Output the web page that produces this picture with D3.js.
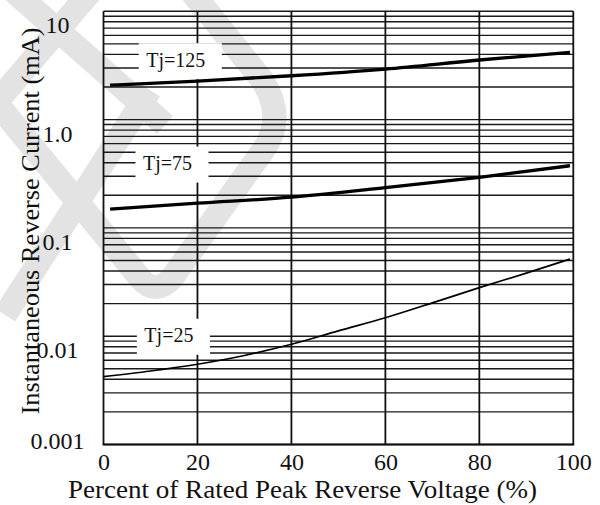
<!DOCTYPE html>
<html>
<head>
<meta charset="utf-8">
<script src="https://cdn.jsdelivr.net/npm/d3@7"></script>
<style>
  body { margin: 0; background: #fff; }
  svg { display: block; }
  text { font-family: "Liberation Serif", "Times New Roman", serif; fill: #111; }
</style>
</head>
<body>
<div id="chart"></div>
<script>
var width = 600
var height = 505
var margin = { top: 11.3, right: 26.7, bottom: 60.5, left: 103.5 }

// x ticks (percent of rated peak reverse voltage)
var xTicks = [0, 20, 40, 60, 80, 100]
// y ticks (mA) and their printed labels
var yTicks = [10, 1, 0.1, 0.01, 0.001]
var yTickLabels = ["10", "1.0", "0.1", "0.01", "0.001"]

// curves
var tj125X = [1.4, 20, 40, 60, 80, 99.3]
var tj125Y = [2.08, 2.27, 2.54, 2.93, 3.55, 4.18]
var tj75X = [1.4, 20, 40, 60, 80, 99.3]
var tj75Y = [0.149, 0.169, 0.192, 0.235, 0.293, 0.375]
var tj25X = [0, 10, 20, 30, 40, 50, 60, 70, 80, 90, 99.3]
var tj25Y = [0.00423, 0.00477, 0.00551, 0.00664, 0.00842, 0.0112, 0.0148, 0.0203, 0.0281, 0.0382, 0.0516]

// series labels: name, x (%), y (mA) of text baseline start
var labelNames = ["Tj=125", "Tj=75", "Tj=25"]
var labelX = [9.1, 8.4, 8.7]
var labelY = [3.08, 0.342, 0.00879]

var svg = d3.select("#chart")
  .append("svg")
  .attr("width", width)
  .attr("height", height)

// faint watermark in the background
var wm = svg.append("g")
  .attr("fill", "none")
  .attr("stroke", "#e3e3e3")
  .attr("stroke-width", 24)
  .attr("stroke-linejoin", "round")
wm.append("path").attr("d", "M92,-10 L-12,112")
wm.append("path").attr("d", "M10,-12 L165,125")
wm.append("path").attr("d", "M5,315 L150,90")
wm.append("path").attr("d", "M-10,95 L140,278 Q155,296 172,278 L262,152 Q287,118 262,80 L190,-10")

// scales
var xScale = d3.scaleLinear()
  .domain([0, 100])
  .range([margin.left, width - margin.right])

var yScale = d3.scaleLog()
  .domain([0.001, 10])
  .range([height - margin.bottom, margin.top])

// horizontal grid (every log minor tick)
svg.append("g")
  .attr("class", "grid")
  .selectAll("line")
  .data(yScale.ticks())
  .enter()
  .append("line")
  .attr("x1", xScale(0))
  .attr("x2", xScale(100))
  .attr("y1", d => yScale(d))
  .attr("y2", d => yScale(d))
  .style("stroke", "#1a1a1a")
  .style("stroke-width", 1.4)

// vertical grid
svg.append("g")
  .attr("class", "grid")
  .selectAll("line")
  .data(xTicks)
  .enter()
  .append("line")
  .attr("x1", d => xScale(d))
  .attr("x2", d => xScale(d))
  .attr("y1", yScale(10))
  .attr("y2", yScale(0.001))
  .style("stroke", "#111")
  .style("stroke-width", 1.8)

// bottom frame
svg.append("line")
  .attr("x1", xScale(0) - 0.9)
  .attr("x2", xScale(100) + 0.9)
  .attr("y1", yScale(0.001))
  .attr("y2", yScale(0.001))
  .style("stroke", "#111")
  .style("stroke-width", 2)

// series labels with white boxes knocking out the grid
var labels = svg.append("g").attr("class", "labels")
labelNames.forEach(function(name, i) {
  var g = labels.append("g")
  var box = g.append("rect").style("fill", "#fff")
  var t = g.append("text")
    .attr("x", xScale(labelX[i]))
    .attr("y", yScale(labelY[i]))
    .style("font-size", "20px")
    .text(name)
  var w = t.node().getComputedTextLength()
  box.attr("x", xScale(labelX[i]) - 7.5)
    .attr("y", yScale(labelY[i]) - 23.5)
    .attr("width", w + 24)
    .attr("height", 36)
})

// curves
var line = d3.line()
  .x(d => xScale(d[0]))
  .y(d => yScale(d[1]))
  .curve(d3.curveMonotoneX)

svg.append("path")
  .datum(d3.zip(tj125X, tj125Y))
  .attr("d", line)
  .style("fill", "none")
  .style("stroke", "#000")
  .style("stroke-width", 3.3)

svg.append("path")
  .datum(d3.zip(tj75X, tj75Y))
  .attr("d", line)
  .style("fill", "none")
  .style("stroke", "#000")
  .style("stroke-width", 3.3)

svg.append("path")
  .datum(d3.zip(tj25X, tj25Y))
  .attr("d", line)
  .style("fill", "none")
  .style("stroke", "#000")
  .style("stroke-width", 1.7)

// x axis
var xAxis = d3.axisBottom(xScale)
  .tickValues(xTicks)
  .tickSize(0)
  .tickPadding(0)
  .tickFormat(d => d)

var gx = svg.append("g")
  .attr("transform", `translate(0,${height - margin.bottom})`)
  .call(xAxis)
gx.select(".domain").remove()
gx.selectAll(".tick text")
  .attr("y", 25.5)
  .attr("dy", 0)
  .style("font-family", '"Liberation Serif", "Times New Roman", serif')
  .style("font-size", "24px")
  .style("fill", "#111")

// y axis
var yAxis = d3.axisLeft(yScale)
  .tickValues(yTicks)
  .tickSize(0)
  .tickFormat((d, i) => yTickLabels[i])

var gy = svg.append("g")
  .attr("transform", `translate(${margin.left},0)`)
  .call(yAxis)
gy.select(".domain").remove()
gy.selectAll(".tick text")
  .attr("x", -46)
  .attr("dy", (d, i) => i == yTicks.length - 1 ? 3.5 : 21.5)
  .style("text-anchor", "middle")
  .style("font-family", '"Liberation Serif", "Times New Roman", serif')
  .style("font-size", "24px")
  .style("fill", "#111")

// axis titles
svg.append("text")
  .attr("x", 302.5)
  .attr("y", 498)
  .attr("text-anchor", "middle")
  .attr("textLength", 469)
  .attr("lengthAdjust", "spacingAndGlyphs")
  .style("font-size", "24.5px")
  .text("Percent of Rated Peak Reverse Voltage (%)")

svg.append("text")
  .attr("text-anchor", "middle")
  .attr("transform", `translate(39,221) rotate(-90)`)
  .attr("textLength", 387)
  .attr("lengthAdjust", "spacingAndGlyphs")
  .style("font-size", "24.5px")
  .text("Instantaneous Reverse Current (mA)")
</script>
</body>
</html>
